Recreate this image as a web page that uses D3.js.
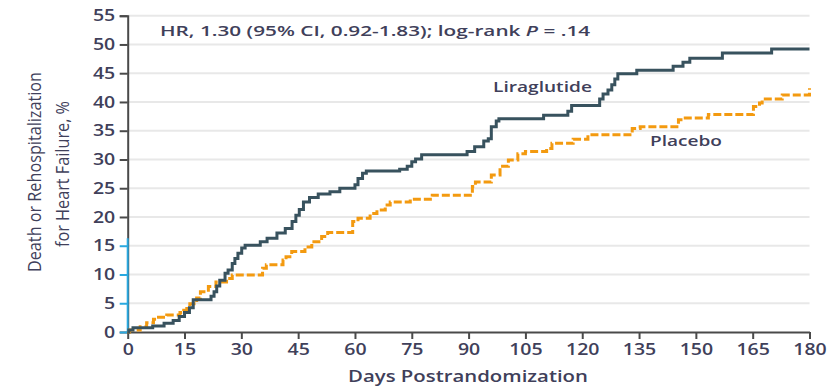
<!DOCTYPE html>
<html>
<head>
<meta charset="utf-8">
<script src="https://cdn.jsdelivr.net/npm/d3@7"></script>
<style>
  html, body { margin: 0; padding: 0; background: #fff; }
  svg { display: block; }
  text { font-family: "Open Sans", "DejaVu Sans", sans-serif; }
</style>
</head>
<body>
<svg id="chart" width="839" height="388"></svg>
<script>
// Kaplan-Meier style cumulative incidence, days 0-180
const liraDays = [0, 0.3, 1.4, 6.6, 9.6, 12, 13.6, 15, 16.3, 17.3, 22, 22.8, 23.5, 24.3, 25.7, 26.5, 27.6, 28.3, 29.1, 30.1, 31, 35, 36.8, 39.4, 41.6, 43.4, 44.4, 45.3, 46.4, 48, 50.3, 53.4, 56, 60, 60.8, 62, 63, 71.8, 73.8, 75, 76, 77.6, 89.6, 91.6, 94, 95.2, 96, 97.3, 98, 109.8, 116.2, 117.2, 124.6, 125.5, 126.8, 127.8, 128.6, 129.4, 134.4, 144, 146.6, 148.4, 157, 170, 180];
const liraPct  = [0, 0.35, 0.75, 1.05, 1.5, 2.0, 2.7, 3.4, 4.2, 5.6, 6.2, 7.0, 8.0, 9.0, 10.2, 10.8, 11.9, 12.8, 13.7, 14.6, 15.1, 15.7, 16.3, 17.2, 18.0, 19.2, 20.3, 21.3, 22.6, 23.4, 24.0, 24.4, 25.0, 25.6, 26.7, 27.6, 28.0, 28.3, 28.8, 29.6, 30.1, 30.8, 31.4, 32.2, 33.2, 33.6, 35.7, 36.7, 37.1, 37.7, 38.4, 39.4, 40.5, 41.4, 42.1, 43.0, 44.0, 44.9, 45.5, 46.2, 46.9, 47.6, 48.5, 49.2, 49.2];

const placeboDays = [0, 0.5, 3.3, 5, 6.8, 7.7, 10.3, 13.8, 14.8, 15.6, 16.4, 18.2, 19.2, 21.3, 23.3, 26.1, 27.6, 35.6, 36.6, 41, 41.8, 43.3, 46.8, 48.6, 51.2, 52.8, 59.4, 60.8, 64, 65.8, 68, 69.3, 74.6, 80.4, 91, 91.8, 96, 98.3, 100.5, 103, 105, 110.6, 112, 117.6, 121.5, 133.2, 135.3, 145.4, 147.2, 153.3, 165.2, 166.8, 167.5, 172.8, 180];
const placeboPct  = [0, 0.35, 0.9, 1.6, 2.2, 2.55, 2.95, 3.4, 3.8, 4.1, 4.9, 5.9, 7.0, 7.9, 8.7, 9.3, 9.9, 11.1, 11.7, 12.5, 13.1, 14.0, 14.8, 15.7, 16.6, 17.3, 19.2, 19.8, 20.6, 21.2, 22.1, 22.6, 23.1, 23.8, 25.3, 26.1, 27.3, 28.8, 29.9, 31.0, 31.4, 31.9, 32.8, 33.5, 34.3, 35.4, 35.7, 36.9, 37.2, 37.8, 39.2, 39.8, 40.5, 41.2, 42.4];

const xTicks = [0, 15, 30, 45, 60, 75, 90, 105, 120, 135, 150, 165, 180];
const yTicks = [0, 5, 10, 15, 20, 25, 30, 35, 40, 45, 50, 55];

const seriesNames = ["Liraglutide", "Placebo"];
const statsLabel = "HR, 1.30 (95% CI, 0.92-1.83); log-rank ";
const statsP = ".14";
const xTitle = "Days Postrandomization";
const yTitle = ["Death or Rehospitalization", "for Heart Failure, %"];

const svg = d3.select("#chart");
const x = d3.scaleLinear().domain([0, 180]).range([127.7, 809.5]);
const y = d3.scaleLinear().domain([0, 55]).range([332, 15.7]);

const textColor = "#40405a";
const axisColor = "#4a4a4a";
const accentBlue = "#2aa9e0";
const liraColor = "#38525e";
const placeboColor = "#f39a10";

// Scale a text element horizontally about its anchor point
function stretchX(sel, sx) {
  sel.each(function () {
    const t = d3.select(this);
    const ax = +t.attr("x") || 0;
    t.attr("transform", `translate(${ax},0) scale(${sx},1) translate(${-ax},0)`);
  });
}
function fitWidth(sel, target) {
  sel.each(function () {
    const w = this.getBBox().width;
    stretchX(d3.select(this), target / w);
  });
}

// Horizontal gridlines
svg.append("g")
  .selectAll("line")
  .data(yTicks.filter(d => d > 0))
  .join("line")
  .attr("x1", x(0)).attr("x2", x(180))
  .attr("y1", d => y(d)).attr("y2", d => y(d))
  .attr("stroke", "#e8e8e8").attr("stroke-width", 2);

// Y axis
const yAxis = svg.append("g")
  .attr("transform", `translate(${x(0)},0)`)
  .call(d3.axisLeft(y).tickValues(yTicks).tickSize(8).tickPadding(4));
yAxis.select(".domain").attr("stroke", axisColor).attr("stroke-width", 2);
yAxis.selectAll(".tick line")
  .attr("stroke", d => d <= 15 ? accentBlue : axisColor)
  .attr("stroke-width", 2);
yAxis.selectAll(".tick text")
  .attr("fill", textColor).attr("font-size", 16).attr("font-weight", 600)
  .attr("x", -12.5)
  .call(stretchX, 1.22);
// lower part of the y axis in blue
svg.append("line")
  .attr("x1", x(0)).attr("x2", x(0))
  .attr("y1", y(0)).attr("y2", y(16.3))
  .attr("stroke", accentBlue).attr("stroke-width", 2);

// X axis
const xAxis = svg.append("g")
  .attr("transform", `translate(0,${y(0)})`)
  .call(d3.axisBottom(x).tickValues(xTicks).tickSize(7).tickSizeOuter(0));
xAxis.select(".domain").attr("stroke", axisColor).attr("stroke-width", 2);
xAxis.selectAll(".tick line").attr("stroke", axisColor).attr("stroke-width", 2);
xAxis.selectAll(".tick text")
  .attr("fill", textColor).attr("font-size", 16).attr("font-weight", 600)
  .attr("y", 23).attr("dy", null)
  .call(stretchX, 1.22);

// Step curves
const stepLine = d3.line()
  .x(d => x(d[0])).y(d => y(d[1]))
  .curve(d3.curveStepAfter);

svg.append("path")
  .datum(placeboDays.map((d, i) => [d, placeboPct[i]]))
  .attr("d", stepLine)
  .attr("fill", "none")
  .attr("stroke", placeboColor).attr("stroke-width", 3)
  .attr("stroke-dasharray", "8,3");

svg.append("path")
  .datum(liraDays.map((d, i) => [d, liraPct[i]]))
  .attr("d", stepLine)
  .attr("fill", "none")
  .attr("stroke", liraColor).attr("stroke-width", 3);

// Statistics annotation
const stats = svg.append("text")
  .attr("x", 160).attr("y", 36)
  .attr("fill", textColor).attr("font-size", 15).attr("font-weight", 600);
stats.append("tspan").text(statsLabel);
stats.append("tspan").attr("font-style", "italic").text("P");
stats.append("tspan").text(" = " + statsP);
fitWidth(stats, 431);

// Series labels
svg.append("text")
  .attr("x", 493).attr("y", 92)
  .attr("fill", textColor).attr("font-size", 15).attr("font-weight", 600)
  .text(seriesNames[0])
  .call(fitWidth, 99);
svg.append("text")
  .attr("x", 650).attr("y", 146)
  .attr("fill", textColor).attr("font-size", 15).attr("font-weight", 600)
  .text(seriesNames[1])
  .call(fitWidth, 72);

// Axis titles
svg.append("text")
  .attr("x", 468).attr("y", 382)
  .attr("text-anchor", "middle")
  .attr("fill", textColor).attr("font-size", 16).attr("font-weight", 600)
  .text(xTitle)
  .call(fitWidth, 240);

const yTitleCenter = 172;
svg.append("text")
  .attr("transform", `translate(41,${yTitleCenter}) rotate(-90)`)
  .attr("text-anchor", "middle")
  .attr("fill", textColor).attr("font-size", 18)
  .attr("textLength", 200).attr("lengthAdjust", "spacingAndGlyphs")
  .text(yTitle[0]);
svg.append("text")
  .attr("transform", `translate(69,${yTitleCenter + 2}) rotate(-90)`)
  .attr("text-anchor", "middle")
  .attr("fill", textColor).attr("font-size", 18)
  .attr("textLength", 146).attr("lengthAdjust", "spacingAndGlyphs")
  .text(yTitle[1]);
</script>
</body>
</html>
